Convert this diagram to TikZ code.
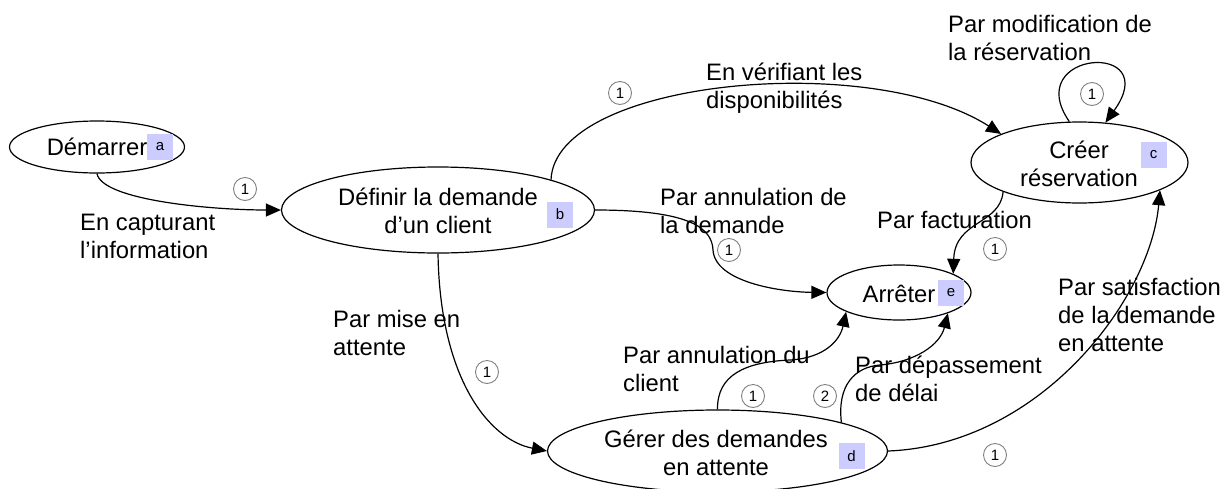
\documentclass[tikz,border=0pt]{standalone}
\usepackage{fontspec}
\setmainfont{Liberation Sans}
\usetikzlibrary{shapes.geometric,arrows.meta}
\definecolor{tagblue}{RGB}{204,204,255}
\tikzset{
  st/.style={draw, ellipse, line width=1.2pt, inner sep=0pt},
  txt/.style={font=\fontsize{23.8}{28}\selectfont, align=center, inner sep=0pt, anchor=base},
  lbl/.style={font=\fontsize{23.8}{28}\selectfont, align=left, inner sep=0pt, anchor=base west},
  tagbox/.style={fill=tagblue, minimum width=26pt, minimum height=26pt, inner sep=0pt, font=\fontsize{15}{15}\selectfont},
  num/.style={circle, draw=gray, line width=0.9pt, minimum size=23pt, inner sep=0pt, font=\fontsize{15}{15}\selectfont},
  conn/.style={line width=1.2pt, -{Triangle[length=15pt,width=13pt]}},
}
\begin{document}
\begin{tikzpicture}[x=1pt,y=-1pt]
\useasboundingbox (0,0) rectangle (1232,488);
% states
\node[st, minimum width=175pt, minimum height=52pt] (a) at (97,147) {};
\node[st, minimum width=313pt, minimum height=86pt] (b) at (438,210) {};
\node[st, minimum width=217pt, minimum height=81pt] (c) at (1079.5,162.5) {};
\node[st, minimum width=144pt, minimum height=55pt] (e) at (899,292.5) {};
\node[st, minimum width=340pt, minimum height=82pt] (d) at (717.5,451) {};
% state texts (base anchor = last line)
\node[txt] (at) at (97,155) {Démarrer};
\node[txt] (bt) at (438,233) {Définir la demande\\d’un client};
\node[txt] (ct) at (1079,186) {Créer\\réservation};
\node[txt] (et) at (899,302) {Arrêter};
\node[txt] (dt) at (716,475) {Gérer des demandes\\en attente};
% tags
\node[tagbox] (ta) at (160,147) {a};
\node[tagbox] (tb) at (560,214.5) {b};
\node[tagbox] (tc) at (1153.5,155) {c};
\node[tagbox] (te) at (951,292.5) {e};
\node[tagbox] (td) at (851.5,456) {d};
% connectors
\draw[conn] (a.south) .. controls (102,200) and (210,210) .. (b.west);
\draw[conn] (b.15) .. controls (555,80) and (870,50) .. (c.160);
\draw[conn] (c.104) .. controls (1020,50) and (1165,40) .. (c.57);
\draw[conn] (b.east) .. controls (690,210) and (712,228) .. (713,250)
            .. controls (715,282) and (780,292) .. (e.west);
\draw[conn] (c.201) .. controls (1000,225) and (955,220) .. (e.19);
\draw[conn] (b.south) .. controls (440,380) and (490,440) .. (d.west);
\draw[conn] (d.north) .. controls (717,375) and (745,362) .. (790,360)
            .. controls (825,358) and (840,340) .. (e.200);
\draw[conn] (d.13.7) .. controls (837,385) and (855,367) .. (880,365)
            .. controls (915,362) and (940,345) .. (e.-23);
\draw[conn] (d.east) .. controls (1040,445) and (1150,300) .. (c.-19);
% labels (base anchor = last line)
\node[lbl] (l1) at (80,258) {En capturant\\l’information};
\node[lbl] (l2) at (706,108) {En vérifiant les\\disponibilités};
\node[lbl] (l3) at (948,60) {Par modification de\\la réservation};
\node[lbl] (l4) at (660,233) {Par annulation de\\la demande};
\node[lbl] (l5) at (877,228) {Par facturation};
\node[lbl] (l6) at (333,355) {Par mise en\\attente};
\node[lbl] (l7) at (623,391) {Par annulation du\\client};
\node[lbl] (l8) at (855,401) {Par dépassement\\de délai};
\node[lbl] (l9) at (1058,351) {Par satisfaction\\de la demande\\en attente};
% numbers
\node[num] (n1) at (245,189) {1};
\node[num] (n2) at (620,93) {1};
\node[num] (n3) at (1092,94) {1};
\node[num] (n4) at (729,250) {1};
\node[num] (n5) at (995,249) {1};
\node[num] (n6) at (487,372) {1};
\node[num] (n7) at (753,396) {1};
\node[num] (n8) at (825,396) {2};
\node[num] (n9) at (995,455) {1};
\end{tikzpicture}
\end{document}
